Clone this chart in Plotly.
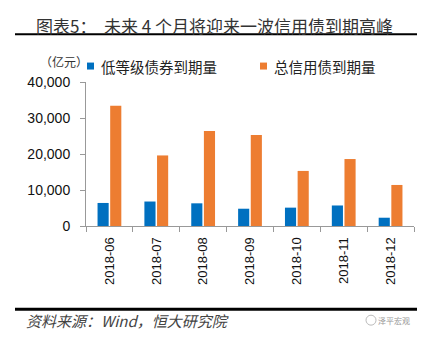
import plotly.graph_objects as go

months = ["2018-06", "2018-07", "2018-08", "2018-09", "2018-10", "2018-11", "2018-12"]
low_grade = [6400, 6800, 6300, 4800, 5100, 5700, 2300]
total_credit = [33400, 19600, 26400, 25300, 15300, 18600, 11400]
series_names = ["低等级债券到期量", "总信用债到期量"]
colors = ["#0070C0", "#ED7D31"]
y_ticks = [0, 10000, 20000, 30000, 40000]

W, H = 434, 345
L, R, T, B = 86, 20, 82, 118.5
PW, PH = W - L - R, H - T - B

def px(x):
    return (x - L) / PW

def py(y):
    return (H - B - y) / PH

fig = go.Figure()
for name, vals, c in zip(series_names, [low_grade, total_credit], colors):
    fig.add_trace(go.Bar(x=months, y=vals, name=name, marker=dict(color=c, line=dict(width=0)),
                         showlegend=False))

fig.update_layout(
    width=W, height=H,
    margin=dict(l=L, r=R, t=T, b=B),
    paper_bgcolor="white", plot_bgcolor="white",
    barmode="group", bargap=0.46, bargroupgap=0.12,
    font=dict(family="Liberation Sans, Arial, sans-serif", color="#222"),
    showlegend=False,
    xaxis=dict(type="category", tickson="boundaries", ticks="outside", ticklen=5,
               tickcolor="#999", showline=True, linecolor="#999", linewidth=1,
               tickangle=-90, tickfont=dict(size=13, color="#111"), showgrid=False,
               ticklabelstandoff=5),
    yaxis=dict(range=[0, 40000], tickvals=y_ticks, tickformat=",d", ticks="outside",
               ticklen=5, tickcolor="#999", showline=True, linecolor="#999", linewidth=1,
               tickfont=dict(size=14, color="#111"), showgrid=False, zeroline=False,
               ticklabelstandoff=7),
)

# legend (drawn manually for exact placement)
leg_sq_x = [87, 260]
for name, c, sx in zip(series_names, colors, leg_sq_x):
    fig.add_shape(type="rect", xref="paper", yref="paper", x0=px(sx), x1=px(sx + 7),
                  y0=py(69.5), y1=py(62.5), fillcolor=c, line=dict(width=0))
    fig.add_annotation(text=name, xref="paper", yref="paper", x=px(sx + 12), y=py(66),
                       xanchor="left", yanchor="middle", showarrow=False,
                       font=dict(family="Noto Sans CJK SC", size=14.5, color="#222"))

fig.add_annotation(text="图表5：  未来 4 个月将迎来一波信用债到期高峰", xref="paper", yref="paper",
                   x=px(34), y=py(25), xanchor="left", yanchor="middle", showarrow=False,
                   font=dict(family="Noto Sans CJK SC", size=17, color="#333"))
fig.add_shape(type="line", xref="paper", yref="paper", x0=px(15), x1=px(417), y0=py(34), y1=py(34),
              line=dict(color="#000", width=2))
fig.add_annotation(text="（亿元）", xref="paper", yref="paper", x=px(38), y=py(61),
                   xanchor="left", yanchor="middle", showarrow=False,
                   font=dict(family="Noto Sans CJK SC", size=12, color="#333"))
fig.add_shape(type="line", xref="paper", yref="paper", x0=px(15), x1=px(417), y0=py(310), y1=py(310),
              line=dict(color="#000", width=3))
fig.add_annotation(text="<i>资料来源：Wind，恒大研究院</i>", xref="paper", yref="paper",
                   x=px(24), y=py(321), xanchor="left", yanchor="middle", showarrow=False,
                   font=dict(family="Noto Sans CJK SC", size=15, color="#444"))
fig.add_annotation(text="泽平宏观", xref="paper", yref="paper", x=px(412), y=py(321),
                   xanchor="right", yanchor="middle", showarrow=False,
                   font=dict(family="Noto Sans CJK SC", size=8, color="#999"))
fig.add_shape(type="circle", xref="paper", yref="paper", x0=px(366), x1=px(376), y0=py(316), y1=py(326),
              line=dict(color="#bbb", width=1))

fig.write_html("out.html")
